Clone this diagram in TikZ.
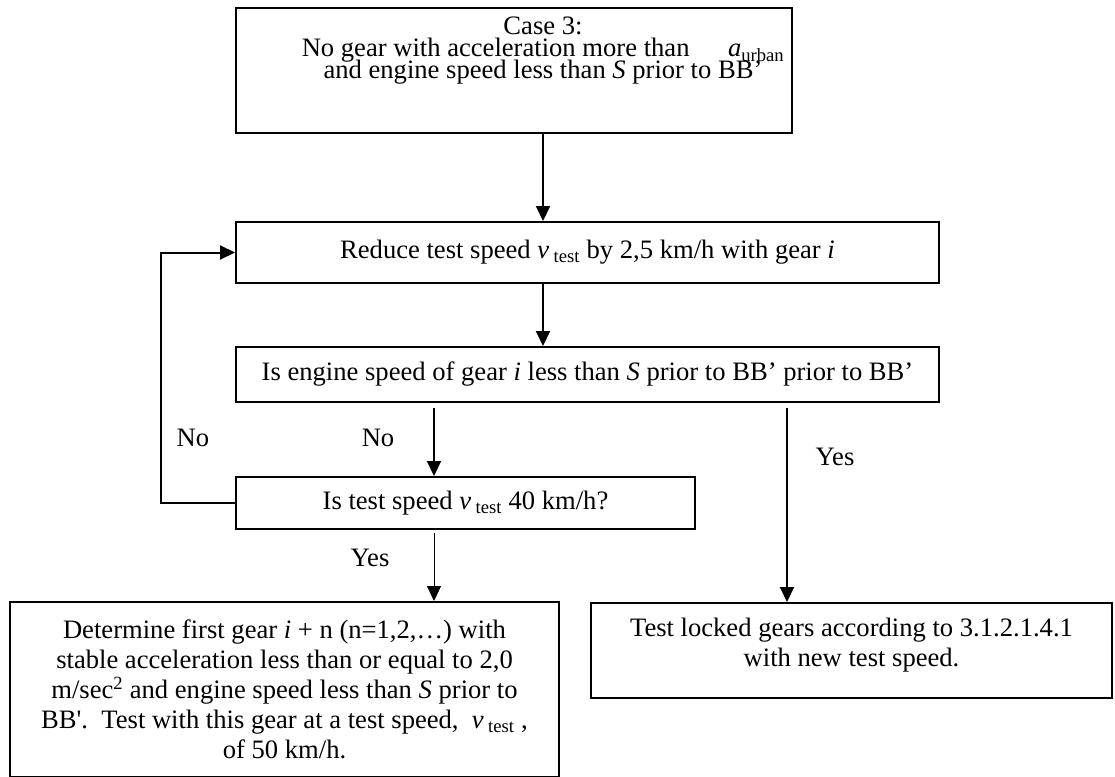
\documentclass[tikz,border=0pt]{standalone}
\usepackage{fontspec}
\setmainfont{Liberation Serif}
\usetikzlibrary{arrows.meta,calc}
\newcommand\flowfont{\fontsize{26.6}{30}\selectfont}
\newcommand\tightfont{\fontsize{26.6}{22}\selectfont\lineskiplimit=-40pt\relax}
\tikzset{
	flowbox/.style={draw, line width=2pt, align=center, inner sep=0pt, font=\flowfont},
	arr/.style={line width=2pt, -{Triangle[width=14pt,length=15pt]}},
	lbl/.style={inner sep=0pt, font=\flowfont}
}

\begin{document}
\begin{tikzpicture}[x=1pt,y=-1pt]
			%%%%% START %%%%%
			\useasboundingbox (0,0) rectangle (1115,776);
			
			\coordinate (colA) at (434,0);
			\coordinate (colM) at (543,0);
			\coordinate (colB) at (787,0);
			
			\node[flowbox, minimum width=556pt, minimum height=125pt] (case) at (514,70.5) {};
			\node[lbl, align=center, anchor=north, font=\tightfont] (casetxt) at ($(case.north -| colM)+(0,10)$)
				{Case 3:\\No gear with acceleration more than\hspace{1.2em} \textit{a}\textsubscript{urban}\\and engine speed less than \textit{S} prior to BB’};
			
			\node[flowbox, minimum width=703pt, minimum height=61pt] (reduce) at (587.5,252.5)
				{Reduce test speed \textit{v}\,\textsubscript{test} by 2,5 km/h with gear \textit{i}};
			\node[flowbox, minimum width=703pt, minimum height=55pt] (engine) at (587.5,374.5)
				{Is engine speed of gear \textit{i} less than \textit{S} prior to BB’ prior to BB’};
			\node[flowbox, minimum width=459pt, minimum height=52pt] (test) at (465.5,503)
				{Is test speed \textit{v}\,\textsubscript{test} 40 km/h?};
			
			\node[flowbox, minimum width=549pt, minimum height=175pt] (determine) at (284.5,689.5)
				{Determine first gear \textit{i} + n (n=1,2,…) with\\stable acceleration less than or equal to 2,0\\m/sec\textsuperscript{2} and engine speed less than \textit{S} prior to\\BB\textquotesingle.\ \ Test with this gear at a test speed,\ \ \textit{v}\,\textsubscript{test}\ ,\\of 50 km/h.};
			\node[flowbox, minimum width=521pt, minimum height=95pt] (locked) at (851.5,650.5) {};
			\node[lbl, align=center] (lockedtxt) at ([yshift=5pt]locked.center)
				{Test locked gears according to 3.1.2.1.4.1\\with new test speed.};
			
			\draw[arr] (case.south -| colM) -- (reduce.north -| colM);
			\draw[arr] (reduce.south -| colM) -- (engine.north -| colM);
			\draw[arr] ($(engine.south -| colA)+(0,5)$) -- (test.north -| colA);
			\draw[arr] (test.west) -- ++(-74,0) |- (reduce.west);
			\draw[arr, line width=1pt] ($(test.south -| colA)+(0,3)$) -- (determine.north -| colA);
			\draw[arr] ($(engine.south -| colB)+(0,5)$) -- (locked.north -| colB);
			
			\node[lbl] (noloop) at (193,438) {No};
			\node[lbl] (nodown) at (378,438) {No};
			\node[lbl] (yesdown) at (370,558) {Yes};
			\node[lbl] (yesright) at (835,457) {Yes};
			
			%%%%% END %%%%%
		\end{tikzpicture}
\end{document}
